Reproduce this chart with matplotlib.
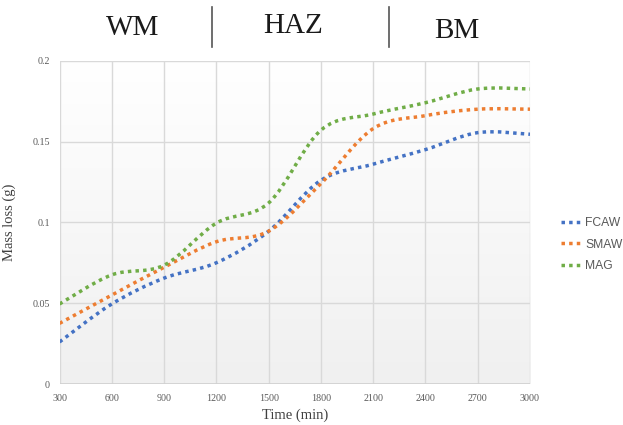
import numpy as np
import matplotlib
matplotlib.use("Agg")
import matplotlib.pyplot as plt
from matplotlib.path import Path
from matplotlib.patches import PathPatch
from matplotlib.lines import Line2D
from matplotlib.colors import LinearSegmentedColormap

# Exposure time (min) and cumulative mass loss (g) per welding process
time_min = [300, 600, 900, 1200, 1500, 1800, 2100, 2400, 2700, 3000]
fcaw = [0.026, 0.0495, 0.0655, 0.075, 0.0945, 0.126, 0.136, 0.145, 0.1555, 0.1545]
smaw = [0.0375, 0.055, 0.0722, 0.088, 0.0945, 0.124, 0.158, 0.166, 0.170, 0.170]
mag = [0.0495, 0.0675, 0.0735, 0.0995, 0.112, 0.157, 0.167, 0.174, 0.1825, 0.1825]

series_names = ["FCAW", "SMAW", "MAG"]
series_colors = ["#4472C4", "#ED7D31", "#70AD47"]
zone_labels = ["WM", "HAZ", "BM"]

x_ticks = [300, 600, 900, 1200, 1500, 1800, 2100, 2400, 2700, 3000]
y_ticks = [0, 0.05, 0.1, 0.15, 0.2]
y_tick_labels = ["0", "0.05", "0.1", "0.15", "0.2"]


def smooth_path(xs, ys):
    """Cubic Bezier path through the points (spreadsheet-style smoothed line)."""
    pts = np.column_stack([xs, ys]).astype(float)
    n = len(pts)
    verts = [pts[0]]
    codes = [Path.MOVETO]
    for i in range(n - 1):
        p0 = pts[i - 1] if i > 0 else pts[i]
        p1 = pts[i]
        p2 = pts[i + 1]
        p3 = pts[i + 2] if i + 2 < n else pts[i + 1]
        c1 = p1 + (p2 - p0) / 6.0
        c2 = p2 - (p3 - p1) / 6.0
        verts += [c1, c2, p2]
        codes += [Path.CURVE4] * 3
    return Path(verts, codes)


fig = plt.figure(figsize=(6.23, 4.25), dpi=100)
ax = fig.add_axes([59.5 / 623, 1 - 384 / 425, (530 - 59.5) / 623, (384 - 60.7) / 425])

ax.set_xlim(300, 3000)
ax.set_ylim(0, 0.2)

# plot area fill: white at the top fading to light grey at the bottom
grad = np.linspace(0.0, 1.0, 256).reshape(-1, 1)
ax.imshow(grad, extent=[300, 3000, 0, 0.2], aspect="auto", origin="lower",
          cmap=LinearSegmentedColormap.from_list("bg", ["#f0f0f0", "#ffffff"]),
          vmin=0, vmax=1, zorder=0)
ax.set_facecolor("white")

ax.set_xticks(x_ticks)
ax.set_yticks(y_ticks)
ax.set_yticklabels(y_tick_labels)
ax.grid(True, color="#d9d9d9", linewidth=1.0, zorder=1)
ax.set_axisbelow(True)
for s in ax.spines.values():
    s.set_visible(False)
ax.tick_params(length=0, labelsize=7.2, labelcolor="#595959", pad=7)
for lab in ax.get_xticklabels() + ax.get_yticklabels():
    lab.set_family("Liberation Serif")
ax.axhline(0, color="#d0d0d0", linewidth=1.2, zorder=2)

lw = 2.5
dash = (0, (1, 1.2))
for ys, col in zip([fcaw, smaw, mag], series_colors):
    patch = PathPatch(smooth_path(time_min, ys), facecolor="none", edgecolor=col,
                      linewidth=lw, linestyle=dash, capstyle="butt", zorder=3)
    ax.add_patch(patch)

ax.set_xlabel("Time (min)", family="Liberation Serif", fontsize=10.5, color="#404040", labelpad=4)
ax.set_ylabel("Mass loss (g)", family="Liberation Serif", fontsize=10.5, color="#404040", labelpad=12)

handles = [Line2D([0], [0], color=c, linewidth=lw, linestyle=dash, dash_capstyle="butt")
           for c in series_colors]
leg = fig.legend(handles, series_names, loc="upper left", bbox_to_anchor=(550 / 623, 1 - 206 / 425),
                 frameon=False, handlelength=1.8, handletextpad=0.2, labelspacing=0.8,
                 prop={"family": "Liberation Sans", "size": 8.7})
for t in leg.get_texts():
    t.set_color("#595959")

# zone headings with separators
for label, xc, yb in zip(zone_labels, [133, 293, 457], [35, 33, 38]):
    fig.text(xc / 623, 1 - yb / 425, label, ha="center", va="baseline",
             family="Liberation Serif", fontsize=21, color="#1a1a1a")
for xs in [212, 389]:
    fig.add_artist(Line2D([xs / 623, xs / 623], [1 - 7 / 425, 1 - 47 / 425],
                          color="#555555", linewidth=1.2, transform=fig.transFigure))

fig.savefig("out.png", dpi=100)
